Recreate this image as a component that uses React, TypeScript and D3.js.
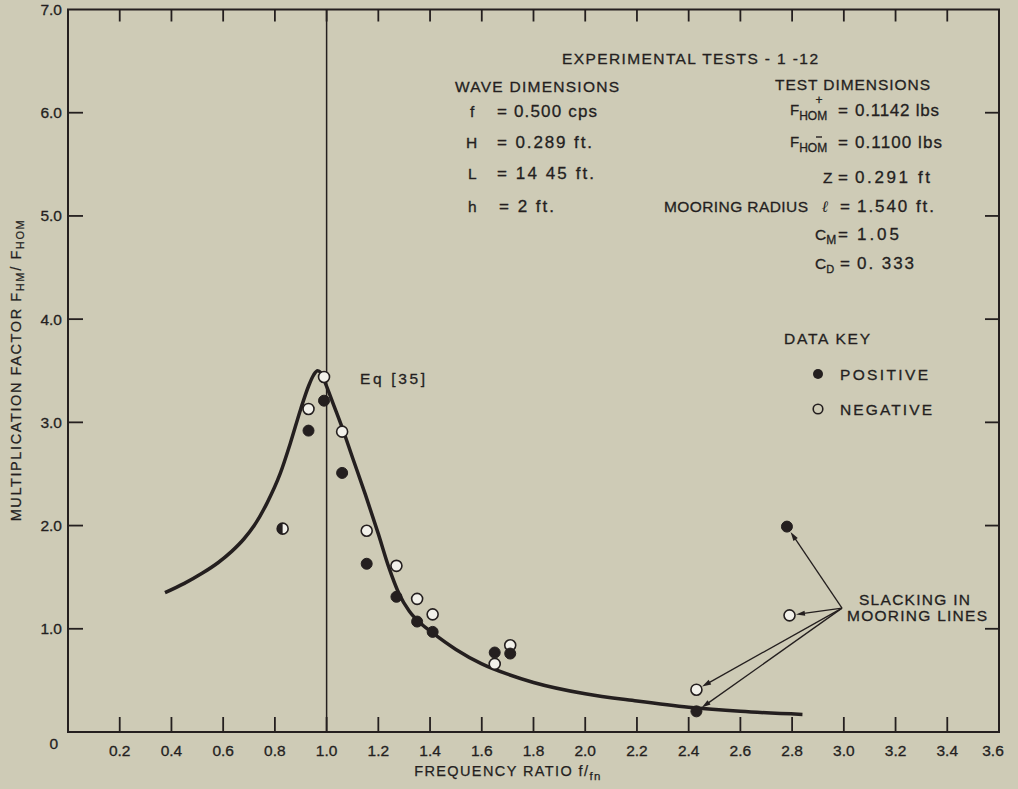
import React from "react";
import * as d3 from "d3";

// ---------- data ----------
const xTicks = [0.2, 0.4, 0.6, 0.8, 1.0, 1.2, 1.4, 1.6, 1.8, 2.0, 2.2, 2.4, 2.6, 2.8, 3.0, 3.2, 3.4];
const xTickLabels = ["0.2", "0.4", "0.6", "0.8", "1.0", "1.2", "1.4", "1.6", "1.8", "2.0", "2.2", "2.4", "2.6", "2.8", "3.0", "3.2", "3.4"];
const yTicks = [0, 1, 2, 3, 4, 5, 6, 7];
const yTickLabels = ["0", "1.0", "2.0", "3.0", "4.0", "5.0", "6.0", "7.0"];

// Eq [35] theoretical curve
const curveX = [0.375, 0.45, 0.52, 0.58, 0.633, 0.68, 0.72, 0.77, 0.82, 0.86, 0.9, 0.93, 0.95, 0.965, 0.978, 0.995, 1.03, 1.06, 1.1, 1.15, 1.2, 1.24, 1.28, 1.32, 1.36, 1.41, 1.5, 1.6, 1.7, 1.8, 2.0, 2.2, 2.4, 2.6, 2.84];
const curveY = [1.35, 1.44, 1.54, 1.64, 1.75, 1.87, 2.0, 2.22, 2.5, 2.8, 3.13, 3.35, 3.46, 3.5, 3.48, 3.38, 3.15, 2.95, 2.66, 2.3, 1.92, 1.6, 1.34, 1.17, 1.06, 0.96, 0.8, 0.66, 0.56, 0.48, 0.37, 0.3, 0.24, 0.2, 0.17];

// positive (filled) data
const posX = [0.93, 0.99, 1.06, 1.155, 1.27, 1.35, 1.41, 1.65, 1.71, 2.43, 2.78];
const posY = [2.92, 3.21, 2.51, 1.63, 1.31, 1.07, 0.97, 0.77, 0.76, 0.2, 1.99];
// negative (open) data
const negX = [0.93, 0.99, 1.06, 1.155, 1.27, 1.35, 1.41, 1.65, 1.71, 2.43, 2.79];
const negY = [3.13, 3.44, 2.91, 1.95, 1.61, 1.29, 1.14, 0.66, 0.84, 0.41, 1.13];
// coincident (half filled)
const bothX = [0.83];
const bothY = [1.97];

// slacking annotation: origin and targets
const slackOrigin = [2.993, 1.2];
const slackTargetX = [2.78, 2.79, 2.43, 2.43];
const slackTargetY = [1.99, 1.13, 0.41, 0.2];

// ---------- layout ----------
const W = 1018, H = 789;
const X0 = 68, X1 = 999, Y0 = 732, Y1 = 9.5;
const INK = "#241f1f";
const BG = "#cecbb6";
const FONT = "'Liberation Sans', Arial, sans-serif";

export default function App() {
  const x = d3.scaleLinear().domain([0, 3.6]).range([X0, X1]);
  const y = d3.scaleLinear().domain([0, 7]).range([Y0, Y1]);
  const line = d3.line<number>().x((_, i) => x(curveX[i])).y((_, i) => y(curveY[i])).curve(d3.curveMonotoneX);
  const r = 5.5;

  const arrows = slackTargetX.map((tx, i) => {
    const x1 = x(slackOrigin[0]), y1 = y(slackOrigin[1]);
    const x2 = x(tx), y2 = y(slackTargetY[i]);
    const dx = x2 - x1, dy = y2 - y1;
    const len = Math.hypot(dx, dy);
    const ux = dx / len, uy = dy / len;
    const ex = x2 - ux * (r + 1), ey = y2 - uy * (r + 1);
    return { x1, y1, ex, ey, ux, uy };
  });

  const txt = (props: any, s: string) => (
    <text fontFamily={FONT} fill={INK} stroke={INK} strokeWidth={0.3} fontSize={15.5} {...props}>{s}</text>
  );

  return (
    <svg width={W} height={H} style={{ position: "absolute", left: 0, top: 0 }}>
      <rect x={0} y={0} width={W} height={H} fill={BG} />
      {/* frame */}
      <rect x={X0} y={Y1} width={X1 - X0} height={Y0 - Y1} fill="none" stroke={INK} strokeWidth={2} />
      {/* vertical line at f/fn = 1 */}
      <line x1={x(1)} x2={x(1)} y1={Y1} y2={Y0} stroke={INK} strokeWidth={1.5} />
      {/* ticks */}
      {xTicks.map((t) => (
        <g key={"xt" + t}>
          <line x1={x(t)} x2={x(t)} y1={Y0} y2={Y0 - 15} stroke={INK} strokeWidth={1.8} />
          <line x1={x(t)} x2={x(t)} y1={Y1} y2={Y1 + 12} stroke={INK} strokeWidth={1.8} />
        </g>
      ))}
      {yTicks.slice(1, 7).map((t) => (
        <g key={"yt" + t}>
          <line x1={X0} x2={X0 + 15} y1={y(t)} y2={y(t)} stroke={INK} strokeWidth={1.8} />
          <line x1={X1} x2={X1 - 14} y1={y(t)} y2={y(t)} stroke={INK} strokeWidth={1.8} />
        </g>
      ))}
      {/* tick labels */}
      <g fontFamily={FONT} fontSize={15.5} fill={INK} stroke={INK} strokeWidth={0.3}>
        {xTicks.map((t, i) => (
          <text key={"xl" + t} x={x(t)} y={756} textAnchor="middle">{xTickLabels[i]}</text>
        ))}
        <text x={X1 - 6} y={756} textAnchor="middle">3.6</text>
        {yTicks.map((t, i) => (
          <text key={"yl" + t} x={t === 0 ? 58 : 62} y={t === 0 ? y(t) + 17 : y(t) + 5.5} textAnchor="end">{yTickLabels[i]}</text>
        ))}
      </g>
      {/* axis titles */}
      <text x={508} y={776} textAnchor="middle" fontFamily={FONT} fontSize={14.5} fill={INK} stroke={INK} strokeWidth={0.25} letterSpacing={1.4}>
        FREQUENCY RATIO f/<tspan fontSize={11.5} dy={4}>fn</tspan>
      </text>
      <text transform="translate(21,370) rotate(-90)" textAnchor="middle" fontFamily={FONT} fontSize={14.5} fill={INK} stroke={INK} strokeWidth={0.25} letterSpacing={1.6}>
        MULTIPLICATION FACTOR  F<tspan fontSize={11} dy={3}>HM</tspan><tspan dy={-3}>/ F</tspan><tspan fontSize={11} dy={3}>HOM</tspan>
      </text>

      {/* curve */}
      <path d={line(curveX) || ""} fill="none" stroke={INK} strokeWidth={3.5} strokeLinejoin="round" />

      {/* arrows */}
      {arrows.map((a, i) => (
        <g key={"ar" + i}>
          <line x1={a.x1} y1={a.y1} x2={a.ex - a.ux * 6} y2={a.ey - a.uy * 6} stroke={INK} strokeWidth={1.3} />
          <polygon
            points={`${a.ex},${a.ey} ${a.ex - a.ux * 9 - a.uy * 2.6},${a.ey - a.uy * 9 + a.ux * 2.6} ${a.ex - a.ux * 9 + a.uy * 2.6},${a.ey - a.uy * 9 - a.ux * 2.6}`}
            fill={INK}
          />
        </g>
      ))}

      {/* data points */}
      {negX.map((v, i) => (
        <circle key={"n" + i} cx={x(v)} cy={y(negY[i])} r={r} fill="#f2f1ea" stroke={INK} strokeWidth={1.6} />
      ))}
      {posX.map((v, i) => (
        <circle key={"p" + i} cx={x(v)} cy={y(posY[i])} r={r} fill={INK} stroke={INK} strokeWidth={1} />
      ))}
      {bothX.map((v, i) => {
        const cx = x(v), cy = y(bothY[i]);
        return (
          <g key={"b" + i}>
            <circle cx={cx} cy={cy} r={r} fill="#f2f1ea" stroke={INK} strokeWidth={1.6} />
            <path d={`M${cx},${cy - r} A${r},${r} 0 0 0 ${cx},${cy + r} Z`} fill={INK} />
          </g>
        );
      })}

      {/* annotations */}
      {txt({ x: 360, y: 384, textLength: 65, lengthAdjust: "spacing" }, "Eq [35]")}
      {txt({ x: 562, y: 64, textLength: 256, lengthAdjust: "spacing" }, "EXPERIMENTAL TESTS - 1 -12")}

      {txt({ x: 455, y: 92, textLength: 164, lengthAdjust: "spacing" }, "WAVE DIMENSIONS")}
      {txt({ x: 470, y: 117 }, "f")}
      {txt({ x: 497, y: 117, fontSize: 17, textLength: 100, lengthAdjust: "spacing" }, "= 0.500 cps")}
      {txt({ x: 466, y: 148 }, "H")}
      {txt({ x: 497, y: 148, fontSize: 17, textLength: 95, lengthAdjust: "spacing" }, "= 0.289 ft.")}
      {txt({ x: 468, y: 179 }, "L")}
      {txt({ x: 497, y: 179, fontSize: 17, textLength: 97, lengthAdjust: "spacing" }, "= 14 45 ft.")}
      {txt({ x: 468, y: 212 }, "h")}
      {txt({ x: 499, y: 212, fontSize: 17, textLength: 55, lengthAdjust: "spacing" }, "= 2 ft.")}

      {txt({ x: 775, y: 90, textLength: 155, lengthAdjust: "spacing" }, "TEST DIMENSIONS")}
      {/* F+HOM */}
      <text x={790} y={115} fontFamily={FONT} fontSize={15} fill={INK} stroke={INK} strokeWidth={0.3}>F<tspan fontSize={12} dy={5}>HOM</tspan></text>
      {txt({ x: 819, y: 104, fontSize: 12, textAnchor: "middle" }, "+")}
      {txt({ x: 838, y: 116, fontSize: 17 }, "=")}
      {txt({ x: 855, y: 116, fontSize: 17, textLength: 84, lengthAdjust: "spacing" }, "0.1142 lbs")}
      {/* F-HOM */}
      <text x={790} y={147} fontFamily={FONT} fontSize={15} fill={INK} stroke={INK} strokeWidth={0.3}>F<tspan fontSize={12} dy={5}>HOM</tspan></text>
      <line x1={816} x2={822} y1={137} y2={137} stroke={INK} strokeWidth={1.4} />
      {txt({ x: 838, y: 148, fontSize: 17 }, "=")}
      {txt({ x: 855, y: 148, fontSize: 17, textLength: 87, lengthAdjust: "spacing" }, "0.1100 lbs")}
      {/* Z */}
      {txt({ x: 823, y: 183 }, "Z")}
      {txt({ x: 838, y: 183, fontSize: 17 }, "=")}
      {txt({ x: 855, y: 183, fontSize: 17, textLength: 75, lengthAdjust: "spacing" }, "0.291 ft")}
      {/* mooring radius */}
      {txt({ x: 664, y: 212, textLength: 144, lengthAdjust: "spacing" }, "MOORING RADIUS")}
      <text x={822} y={212} fontFamily="'DejaVu Serif', serif" fontStyle="italic" fontWeight="bold" fontSize={16} fill={INK}>ℓ</text>
      {txt({ x: 840, y: 212, fontSize: 17 }, "=")}
      {txt({ x: 857, y: 212, fontSize: 17, textLength: 77, lengthAdjust: "spacing" }, "1.540 ft.")}
      {/* CM */}
      <text x={815} y={240} fontFamily={FONT} fontSize={15.5} fill={INK} stroke={INK} strokeWidth={0.3}>C<tspan fontSize={12} dy={4}>M</tspan></text>
      {txt({ x: 838, y: 240, fontSize: 17 }, "=")}
      {txt({ x: 857, y: 240, fontSize: 17, textLength: 42, lengthAdjust: "spacing" }, "1.05")}
      {/* CD */}
      <text x={815} y={269} fontFamily={FONT} fontSize={15.5} fill={INK} stroke={INK} strokeWidth={0.3}>C<tspan fontSize={11} dy={4}>D</tspan></text>
      {txt({ x: 840, y: 269, fontSize: 17 }, "=")}
      {txt({ x: 857, y: 269, fontSize: 17, textLength: 57, lengthAdjust: "spacing" }, "0. 333")}

      {/* legend */}
      {txt({ x: 784, y: 344, textLength: 86, lengthAdjust: "spacing" }, "DATA KEY")}
      <circle cx={818} cy={374} r={5} fill={INK} />
      {txt({ x: 840, y: 380, textLength: 88, lengthAdjust: "spacing" }, "POSITIVE")}
      <circle cx={818} cy={409} r={4.8} fill="none" stroke={INK} strokeWidth={1.6} />
      {txt({ x: 840, y: 415, textLength: 92, lengthAdjust: "spacing" }, "NEGATIVE")}

      {/* slacking label */}
      {txt({ x: 859, y: 605, textLength: 111, lengthAdjust: "spacing" }, "SLACKING IN")}
      {txt({ x: 847, y: 621, textLength: 140, lengthAdjust: "spacing" }, "MOORING LINES")}
    </svg>
  );
}
